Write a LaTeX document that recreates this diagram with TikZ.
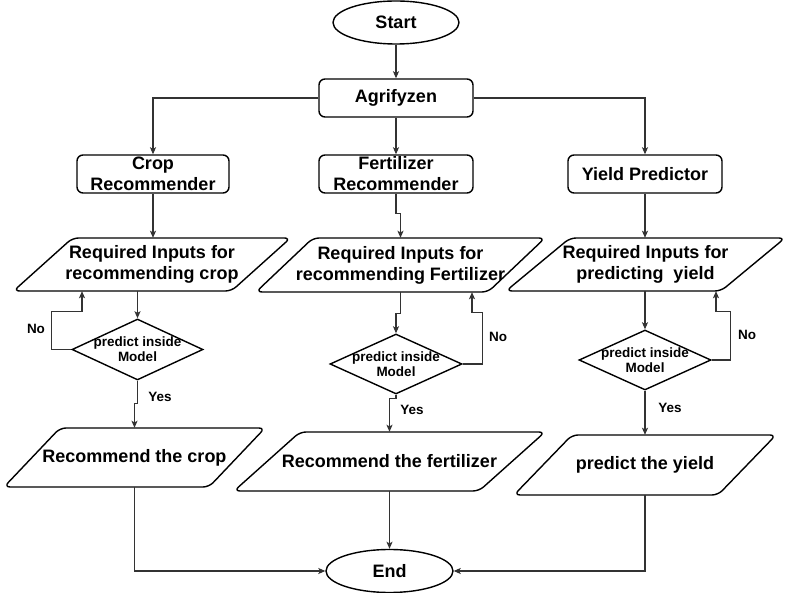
\documentclass[tikz,border=0pt]{standalone}
\usepackage{fontspec}
\setmainfont{Liberation Sans}
\usetikzlibrary{shapes.geometric,arrows.meta,calc}
\tikzset{
  shp/.style={draw=black,line width=1.4pt,fill=white},
  bigtxt/.style={font=\bfseries\fontsize{18}{21}\selectfont,align=center},
  smalltxt/.style={font=\bfseries\fontsize{13.5}{15}\selectfont,align=center},
  term/.style={shp,ellipse,inner sep=0pt,bigtxt},
  procbox/.style={shp,rectangle,rounded corners=6pt,inner sep=0pt,bigtxt},
  decis/.style={shp,diamond,inner sep=0pt},
  conn/.style={draw=black!80,line width=1.1pt,-{Stealth[length=7pt,width=6pt,inset=1.5pt]}},
  lbl/.style={smalltxt,inner sep=0pt},
}
% #1 name, #2 cx, #3 cy, #4 total width, #5 height, #6 skew, #7 text
\newcommand\mypgram[7]{%
  \pgfmathsetmacro\pgL{#2-#4/2}%
  \pgfmathsetmacro\pgR{#2+#4/2}%
  \pgfmathsetmacro\pgT{#3-#5/2}%
  \pgfmathsetmacro\pgB{#3+#5/2}%
  \draw[shp,rounded corners=6pt] (\pgL+#6,\pgT) -- (\pgR,\pgT) -- (\pgR-#6,\pgB) -- (\pgL,\pgB) -- cycle;
  \node[bigtxt,inner sep=0pt,minimum width=#4-#6,minimum height=#5] (#1) at (#2,#3) {#7};%
}
\begin{document}
\begin{tikzpicture}[x=1pt,y=-1pt]
\useasboundingbox[fill=white] (0,0) rectangle (788,593);

\node[term,minimum width=126,minimum height=43] (start) at (396,22.5) {Start};
\node[procbox,minimum width=154,minimum height=38] (agri) at (396,98) {Agrifyzen};
\node[procbox,minimum width=152,minimum height=38] (crec) at (153,174) {Crop\\Recommender};
\node[procbox,minimum width=154,minimum height=38] (frec) at (396,174) {Fertilizer\\Recommender};
\node[procbox,minimum width=154,minimum height=38] (yrec) at (645,174) {Yield Predictor};

\mypgram{p1}{152}{264.5}{277}{53}{59}{Required Inputs for\\recommending crop}
\mypgram{p2}{400.5}{265}{289}{54}{57}{Required Inputs for\\recommending Fertilizer}
\mypgram{p3}{645.5}{264.5}{279}{53}{64}{Required Inputs for\\predicting\ \ yield}

\node[decis,minimum width=131,minimum height=61,label={[smalltxt]center:predict inside\\Model}] (d1) at (137.5,349.5) {};
\node[decis,minimum width=132,minimum height=60,label={[smalltxt]center:predict inside\\Model}] (d2) at (396,364) {};
\node[decis,minimum width=132,minimum height=60,label={[smalltxt]center:predict inside\\Model}] (d3) at (645,360) {};

\mypgram{r1}{134.5}{457.5}{261}{59}{56}{Recommend the crop}
\mypgram{r2}{389.5}{461.5}{311}{59}{66}{Recommend the fertilizer}
\mypgram{r3}{645}{465}{262}{60}{58}{predict the yield}

\node[term,minimum width=127,minimum height=43] (end) at (389.5,571) {End};

% connectors
\draw[conn] (start) -- (agri);
\draw[conn] (agri.west) -| (crec.north);
\draw[conn] (agri) -- (frec);
\draw[conn] (agri.east) -| (yrec.north);

\draw[conn] (crec.south) -- (crec.south |- p1.north);
\draw[conn] (frec.south) -- ++(0,20) -| (p2.north);
\draw[conn] (yrec.south) -- (yrec.south |- p3.north);

\draw[conn] (d1.north |- p1.south) -- (d1.north);
\draw[conn] (p2.south) -- ++(0,21) -| (d2.north);
\draw[conn] (d3.north |- p3.south) -- (d3.north);

% No loops
\draw[conn] (d1.west) -- ++(-20,0) |- ([xshift=-70pt,yshift=-20pt]p1.south) -- ([xshift=-70pt]p1.south);
\draw[conn] (d2.east) -- ++(20,0) |- ([xshift=71.5pt,yshift=-20pt]p2.south) -- ([xshift=71.5pt]p2.south);
\draw[conn] (d3.east) -- ++(19,0) |- ([xshift=70.5pt,yshift=-20pt]p3.south) -- ([xshift=70.5pt]p3.south);

% Yes
\draw[conn] (d1.south) -- ++(0,23) -| (r1.north);
\draw[conn] (d2.south) -- ++(0,4) -| (r2.north);
\draw[conn] (d3.south) -- (r3.north);

% to end
\draw[conn] (r1.south) |- (end.west);
\draw[conn] (r2.south) -- (end.north);
\draw[conn] (r3.south) |- (end.east);

\node[lbl] (no1) at (36,329) {No};
\node[lbl] (no2) at (498,337) {No};
\node[lbl] (no3) at (747,335) {No};
\node[lbl] (yes1) at (160,397) {Yes};
\node[lbl] (yes2) at (412,410) {Yes};
\node[lbl] (yes3) at (670,408) {Yes};
\end{tikzpicture}
\end{document}
